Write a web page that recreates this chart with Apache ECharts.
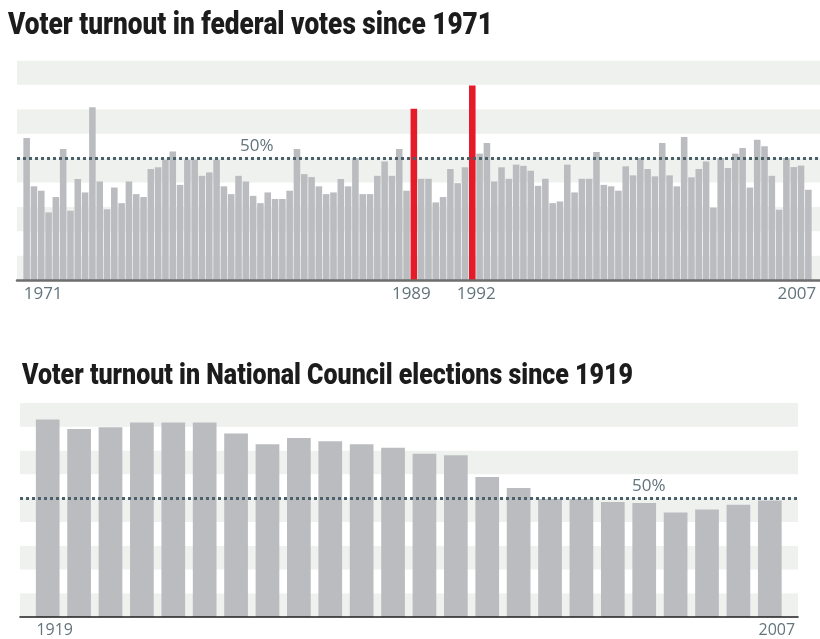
<!DOCTYPE html>
<html>
<head>
<meta charset="utf-8">
<script src="https://cdn.jsdelivr.net/npm/echarts@6/dist/echarts.min.js"></script>
<style>
html,body{margin:0;padding:0;background:#ffffff;}
#c{width:820px;height:639px;}
</style>
</head>
<body>
<div id="c"></div>
<script>
// ---------- data ----------
const federalTitle = 'Voter turnout in federal votes since 1971';
const councilTitle = 'Voter turnout in National Council elections since 1919';

// turnout (%) of each federal voting date, 1971 -> 2007, in order
const federalTurnout = [
  58.2, 38.4, 36.6, 27.7, 34.0, 53.7, 28.4, 41.4, 35.9, 70.8, 40.4, 29.0,
  37.9, 31.5, 40.4, 35.2, 34.0, 45.5, 46.2, 49.3, 52.7,
  39.0, 49.3, 49.3, 42.7, 44.1, 49.3, 38.4, 35.2, 42.7, 40.4, 34.5, 31.5,
  35.9, 33.2, 33.2, 36.6, 53.7, 43.4, 42.2, 38.4, 35.2, 35.9, 41.4, 38.4,
  50.0, 35.2, 35.2, 42.7, 48.6, 42.7, 53.7, 36.6, 70.2, 41.5, 41.5, 31.8, 34.0,
  45.5, 39.7, 46.2, 79.7, 51.8, 56.2, 40.4, 46.2, 41.5, 47.3, 46.8, 44.8,
  38.6, 41.5, 31.5, 32.2, 47.3, 35.9, 41.5, 41.5, 52.5, 39.0, 38.4, 36.6,
  46.6, 42.9, 50.0, 45.5, 42.5, 56.2, 42.9, 38.4, 58.6, 42.1, 45.5, 48.6,
  29.7, 50.0, 45.9, 51.8, 54.1, 37.9, 57.5, 54.8, 42.7, 28.8, 50.0, 46.3,
  46.9, 37.0
];
const federalCategories = federalTurnout.map((v, i) => 'vote ' + (i + 1));
const federalTickIndex = [0, 53, 61, 107];
const federalTickText = ['1971', '1989', '1992', '2007'];
const federalHighlightIndex = [53, 61];   // 1989 and 1992

const councilYears = ['1919','1922','1925','1928','1931','1935','1939','1943',
  '1947','1951','1955','1959','1963','1967','1971','1975','1979','1983',
  '1987','1991','1995','1999','2003','2007'];
const councilTurnout = [83.1, 79.1, 79.8, 81.8, 81.8, 81.8, 77.2, 72.6,
  75.3, 73.9, 72.6, 71.2, 68.7, 68.0, 58.9, 54.3, 49.6, 49.6,
  48.4, 47.9, 43.9, 45.2, 47.2, 49.0];
const councilTickText = ['1919', '2007'];

const thresholdValue = 50;
const thresholdText = '50%';

// ---------- styles ----------
const GRAY = '#bbbcc0';
const RED = '#e61b2a';
const STRIPES = ['#eff1ee', '#ffffff'];
const DOT = '#4a616a';
const LABEL = '#62747c';
const TITLE_FONT = 'Roboto';
const TITLE_WEIGHT = 900;
const LABEL_FONT = 'Open Sans';

function titleScale(text, size, targetWidth) {
  const ctx = document.createElement('canvas').getContext('2d');
  ctx.font = TITLE_WEIGHT + ' ' + size + 'px "' + TITLE_FONT + '"';
  return targetWidth / ctx.measureText(text).width;
}

const chart = echarts.init(document.getElementById('c'), null, {renderer: 'canvas'});

const hiddenAxis = {
  axisLine: {show: false}, axisTick: {show: false},
  axisLabel: {show: false}, splitLine: {show: false}
};

const federalRich = {
  a: {fontFamily: LABEL_FONT, fontSize: 17, color: LABEL, padding: [0, 0, 0, 33]},
  b: {fontFamily: LABEL_FONT, fontSize: 17, color: LABEL, padding: [0, 5, 0, 0]},
  c: {fontFamily: LABEL_FONT, fontSize: 17, color: LABEL, padding: [0, 0, 0, 8]},
  d: {fontFamily: LABEL_FONT, fontSize: 17, color: LABEL, padding: [0, 23, 0, 0]}
};
const richKeys = ['a', 'b', 'c', 'd'];

const option = {
  animation: false,
  backgroundColor: '#ffffff',
  grid: [
    {left: 17, right: 0, top: 58, bottom: 359, outerBoundsMode: 'none', containLabel: false},
    {left: 23, right: 8, top: 58, bottom: 359, outerBoundsMode: 'none', containLabel: false},
    {left: 20, right: 22, top: 403, bottom: 22, outerBoundsMode: 'none', containLabel: false},
    {left: 32, right: 34.5, top: 403, bottom: 22, outerBoundsMode: 'none', containLabel: false}
  ],
  xAxis: [
    {gridIndex: 0, type: 'value', min: 0, max: 1, z: 10,
      axisLine: {show: true, onZero: false, lineStyle: {color: '#6e6e6e', width: 2.5}},
      axisTick: {show: false}, axisLabel: {show: false}, splitLine: {show: false}},
    {gridIndex: 1, type: 'category', data: federalCategories,
      axisLine: {show: false}, axisTick: {show: false}, splitLine: {show: false},
      axisLabel: {
        show: true, margin: 6,
        interval: (i) => federalTickIndex.indexOf(i) >= 0,
        formatter: (v, i) => {
          const k = federalTickIndex.indexOf(i);
          return k >= 0 ? '{' + richKeys[k] + '|' + federalTickText[k] + '}' : '';
        },
        rich: federalRich
      }},
    {gridIndex: 2, type: 'value', min: 0, max: 1, z: 10,
      axisLine: {show: true, onZero: false, lineStyle: {color: '#1e1e1e', width: 1.6}},
      axisTick: {show: false}, axisLabel: {show: false}, splitLine: {show: false}},
    {gridIndex: 3, type: 'category', data: councilYears,
      axisLine: {show: false}, axisTick: {show: false}, splitLine: {show: false},
      axisLabel: {
        show: true, margin: 5,
        interval: (i, v) => councilTickText.indexOf(v) >= 0,
        formatter: (v) => councilTickText.indexOf(v) >= 0 ? v : '',
        fontFamily: LABEL_FONT, fontSize: 16, color: LABEL, padding: [0, 0, 0, 14]
      }}
  ],
  yAxis: [
    Object.assign({gridIndex: 0, type: 'value', min: 0, max: 91, interval: 10,
      splitArea: {show: true, areaStyle: {color: STRIPES}}}, hiddenAxis),
    Object.assign({gridIndex: 1, type: 'value', min: 0, max: 91, interval: 10,
      splitArea: {show: false}}, hiddenAxis),
    Object.assign({gridIndex: 2, type: 'value', min: 0, max: 90, interval: 10,
      splitArea: {show: true, areaStyle: {color: STRIPES}}}, hiddenAxis),
    Object.assign({gridIndex: 3, type: 'value', min: 0, max: 90, interval: 10,
      splitArea: {show: false}}, hiddenAxis)
  ],
  series: [
    {
      type: 'bar', xAxisIndex: 1, yAxisIndex: 1, z: 2, silent: true,
      barCategoryGap: '10%',
      itemStyle: {color: GRAY},
      data: federalTurnout.map((v, i) =>
        federalHighlightIndex.indexOf(i) >= 0 ? {value: v, itemStyle: {color: RED}} : v)
    },
    {
      type: 'line', xAxisIndex: 0, yAxisIndex: 0, z: 6, silent: true, data: [],
      markLine: {
        silent: true, symbol: 'none', animation: false,
        lineStyle: {color: DOT, width: 3, type: [3, 3]},
        label: {show: true, formatter: thresholdText, position: 'insideStartTop',
          distance: [223, 3], fontFamily: LABEL_FONT, fontSize: 17, color: LABEL},
        data: [{yAxis: thresholdValue}]
      }
    },
    {
      type: 'bar', xAxisIndex: 3, yAxisIndex: 3, z: 2, silent: true,
      barCategoryGap: '24.5%',
      itemStyle: {color: GRAY},
      data: councilTurnout
    },
    {
      type: 'line', xAxisIndex: 2, yAxisIndex: 2, z: 6, silent: true, data: [],
      markLine: {
        silent: true, symbol: 'none', animation: false,
        lineStyle: {color: DOT, width: 3, type: [3, 3]},
        label: {show: true, formatter: thresholdText, position: 'insideStartTop',
          distance: [612, 3], fontFamily: LABEL_FONT, fontSize: 17, color: LABEL},
        data: [{yAxis: thresholdValue}]
      }
    }
  ],
  graphic: [
    {type: 'text', x: 8, y: 26, scaleX: titleScale(federalTitle, 31, 485), silent: true,
      style: {text: federalTitle, fontFamily: TITLE_FONT, fontWeight: TITLE_WEIGHT, fontSize: 31,
        fill: '#1c1c1c', verticalAlign: 'middle', align: 'left'}},
    {type: 'text', x: 22, y: 376, scaleX: titleScale(councilTitle, 30, 611), silent: true,
      style: {text: councilTitle, fontFamily: TITLE_FONT, fontWeight: TITLE_WEIGHT, fontSize: 30,
        fill: '#1c1c1c', verticalAlign: 'middle', align: 'left'}}
  ]
};

chart.setOption(option);
</script>
</body>
</html>
